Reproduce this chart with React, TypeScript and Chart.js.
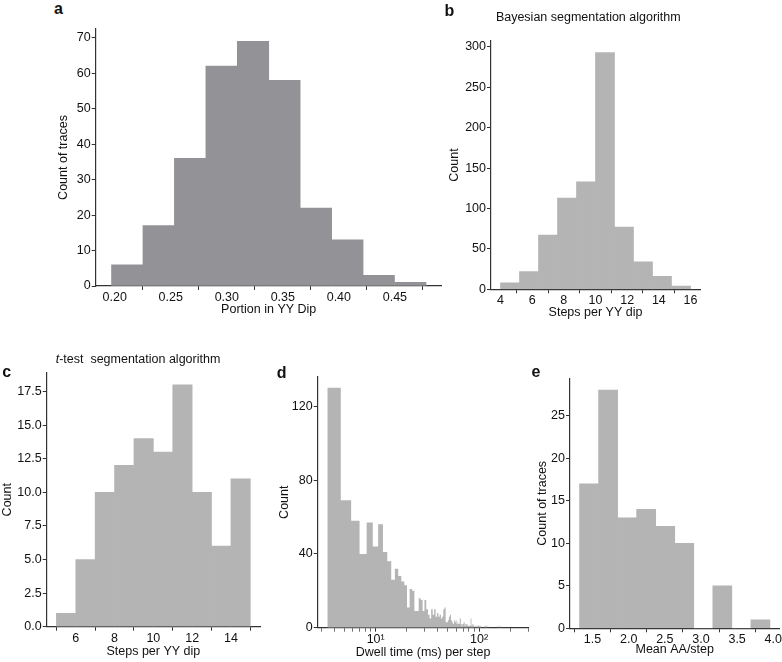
import React, { useEffect, useRef } from "react";
import { Chart, registerables } from "chart.js";

Chart.register(...registerables);

const FONT = "'Liberation Sans', Arial, Helvetica, sans-serif";
const FS = 12.5;
Chart.defaults.font.family = FONT;
Chart.defaults.font.size = FS;
Chart.defaults.color = "#111111";

// ---------- Panel a: Portion in YY Dip ----------
const portionEdges = [0.1971, 0.2252, 0.2532, 0.2813, 0.3094, 0.3374, 0.3655, 0.3936, 0.4216, 0.4497, 0.4778];
const portionCounts = [6, 17, 36, 62, 69, 58, 22, 13, 3, 1];
const portionXTicks = [0.2, 0.25, 0.3, 0.35, 0.4, 0.45];
const portionYTicks = [0, 10, 20, 30, 40, 50, 60, 70];

// ---------- Panel b: Bayesian segmentation ----------
const bayesEdges = [4, 5.2, 6.4, 7.6, 8.8, 10, 11.2, 12.4, 13.6, 14.8, 16];
const bayesCounts = [8, 22, 67, 113, 133, 293, 77, 34, 16, 4];
const bayesXTicks = [4, 6, 8, 10, 12, 14, 16];
const bayesYTicks = [0, 50, 100, 150, 200, 250, 300];

// ---------- Panel c: t-test segmentation ----------
const ttestEdges = [5, 6, 7, 8, 9, 10, 11, 12, 13, 14, 15];
const ttestCounts = [1, 5, 10, 12, 14, 13, 18, 10, 6, 11];
const ttestXTicks = [6, 8, 10, 12, 14];
const ttestYTicks = [0, 2.5, 5, 7.5, 10, 12.5, 15, 17.5];

// ---------- Panel d: Dwell time per step (linear bins on log axis) ----------
const dwellBinStart = 3.4;
const dwellBinWidth = 1.193;
const dwellCounts = [
  130, 69, 58, 40, 57, 44, 56, 41, 36, 26,
  32, 28, 25, 23, 11, 21, 20, 9, 9, 16,
  15, 9, 15, 10, 7, 5, 10, 7, 10, 6,
  8, 6, 7, 5, 6, 10, 11, 3, 3, 4,
  6, 7, 4, 3, 2, 4, 3, 4, 2, 3,
  2, 3, 5, 2, 1, 2, 3, 3, 1, 2,
  1, 2, 1, 2, 1, 1, 2, 5, 1, 1,
  2, 1, 1, 0, 1, 1, 0, 1, 0, 1,
  1, 0, 1, 0, 1, 0, 0, 1, 0, 1,
  0, 0, 1, 0, 0, 1, 0, 0, 0, 1,
  0, 0, 0, 1, 0, 0, 0, 1, 0, 0,
  0, 0, 1, 0, 0, 0, 0, 0, 1, 0,
  0, 0, 0, 0, 0, 1, 0, 0, 0, 0,
  0, 0, 0, 1, 0, 0, 0, 0, 0, 0,
  0, 1, 0, 0, 0, 0, 0, 0, 0, 0,
  0, 0, 1, 0, 0, 0, 0, 0, 0, 0,
  0, 0, 0, 0, 0, 0, 0, 0, 0, 0,
  0, 0, 0, 0, 0, 0, 0, 0, 0, 0,
  0, 0, 0, 0, 0, 0, 0, 0, 0, 0,
  0, 0, 0, 0, 0, 0, 0, 0, 0, 0,
];
const dwellEdges = Array.from({ length: dwellCounts.length + 1 }, (_, k) => dwellBinStart + k * dwellBinWidth);
const dwellXTicks = [3, 4, 5, 6, 7, 8, 9, 10, 20, 30, 40, 50, 60, 70, 80, 90, 100, 200, 300];
const dwellXMajor = [10, 100];
const dwellXLabels = ["10\u00B9", "10\u00B2"];
const dwellYTicks = [0, 40, 80, 120];

// ---------- Panel e: Mean AA/step ----------
const aaEdges = [1.32, 1.5834, 1.8468, 2.1102, 2.3736, 2.637, 2.9004, 3.1638, 3.4272, 3.6906, 3.954];
const aaCounts = [17, 28, 13, 14, 12, 10, 0, 5, 0, 1];
const aaXTicks = [1.5, 2, 2.5, 3, 3.5, 4];
const aaYTicks = [0, 5, 10, 15, 20, 25];

const AXIS = "#333333";
const TEXT = "#111111";

type PanelProps = {
  kind: "bar" | "logstep";
  edges: number[];
  counts: number[];
  color: string;
  box: { left: number; top: number; width: number; height: number };
  pad: { top: number; right: number };
  yAxisWidth: number;
  xAxisHeight: number;
  xMin: number;
  xMax: number;
  yMax: number;
  xTicks: number[];
  yTicks: number[];
  xLabel: (v: number) => string;
  yLabel: (v: number) => string;
  xTitle: string;
  yTitle: string;
  xTitlePad: number;
  yTitlePad: number;
  minorX?: number[];
};

function Panel(p: PanelProps) {
  const ref = useRef<HTMLCanvasElement>(null);
  useEffect(() => {
    const canvas = ref.current;
    if (!canvas) return;
    const data: { x: number; y: number }[] = [];
    if (p.kind === "bar") {
      p.counts.forEach((c, i) => data.push({ x: (p.edges[i] + p.edges[i + 1]) / 2, y: c }));
    } else {
      p.counts.forEach((c, i) => {
        data.push({ x: p.edges[i], y: c });
        data.push({ x: p.edges[i + 1], y: c });
      });
    }
    const dataset: any =
      p.kind === "bar"
        ? { data, backgroundColor: p.color, borderWidth: 0, barPercentage: 1, categoryPercentage: 1 }
        : {
            data,
            backgroundColor: p.color,
            borderColor: "rgba(0,0,0,0)",
            borderWidth: 0,
            pointRadius: 0,
            fill: "origin",
            tension: 0,
          };
    const gridOpts = (minor?: number[]) => ({
      display: true,
      drawOnChartArea: false,
      drawTicks: true,
      tickLength: 4,
      color: AXIS,
      tickColor: AXIS,
      tickWidth: (ctx: any) => (minor && ctx.tick && minor.indexOf(ctx.tick.value) < 0 ? 0.7 : 1),
    });
    const chart = new Chart(canvas, {
      type: p.kind === "bar" ? "bar" : "line",
      data: { datasets: [dataset] },
      options: {
        responsive: false,
        animation: false,
        events: [],
        layout: { padding: { left: 0, top: p.pad.top, right: p.pad.right, bottom: 0 } },
        plugins: { legend: { display: false }, tooltip: { enabled: false }, title: { display: false } },
        scales: {
          x: {
            type: p.kind === "bar" ? "linear" : "logarithmic",
            min: p.xMin,
            max: p.xMax,
            offset: false,
            grid: gridOpts(p.minorX),
            border: { display: true, color: AXIS, width: 1.2 },
            ticks: {
              autoSkip: false,
              maxRotation: 0,
              minRotation: 0,
              padding: 0,
              color: TEXT,
              font: { size: FS },
              callback: (v: any) => p.xLabel(Number(v)),
            },
            title: {
              display: true,
              text: p.xTitle,
              color: TEXT,
              font: { size: FS },
              padding: { top: 0, bottom: p.xTitlePad },
            },
            afterBuildTicks: (s: any) => {
              s.ticks = p.xTicks.map((v) => ({ value: v }));
            },
            afterFit: (s: any) => {
              s.height = p.xAxisHeight;
            },
          } as any,
          y: {
            type: "linear",
            min: 0,
            max: p.yMax,
            grid: gridOpts(),
            border: { display: true, color: AXIS, width: 1.2 },
            ticks: {
              autoSkip: false,
              padding: 1,
              color: TEXT,
              font: { size: FS },
              callback: (v: any) => p.yLabel(Number(v)),
            },
            title: {
              display: true,
              text: p.yTitle,
              color: TEXT,
              font: { size: FS },
              padding: { top: p.yTitlePad, bottom: 0 },
            },
            afterBuildTicks: (s: any) => {
              s.ticks = p.yTicks.map((v) => ({ value: v }));
            },
            afterFit: (s: any) => {
              s.width = p.yAxisWidth;
            },
          } as any,
        },
      },
    });
    return () => chart.destroy();
  }, []);
  return (
    <canvas
      ref={ref}
      width={p.box.width}
      height={p.box.height}
      style={{ position: "absolute", left: p.box.left, top: p.box.top, width: p.box.width, height: p.box.height }}
    />
  );
}

function Label(props: { x: number; y: number; size: number; bold?: boolean; children: React.ReactNode }) {
  return (
    <div
      style={{
        position: "absolute",
        left: props.x,
        top: props.y,
        transform: "translate(-50%, -50%)",
        fontFamily: FONT,
        fontSize: props.size,
        fontWeight: props.bold ? "bold" : "normal",
        lineHeight: 1,
        whiteSpace: "pre",
        color: TEXT,
      }}
    >
      {props.children}
    </div>
  );
}

export default function App() {
  useEffect(() => {
    document.body.style.margin = "0";
    document.body.style.overflow = "hidden";
  }, []);
  const str = (v: number) => String(v);
  return (
    <div style={{ position: "relative", width: 782, height: 662, overflow: "hidden", background: "#fff" }}>
      <Panel
        kind="bar"
        edges={portionEdges}
        counts={portionCounts}
        color="#939397"
        box={{ left: 40, top: 20, width: 420, height: 302 }}
        pad={{ top: 9, right: 18.3 }}
        yAxisWidth={55.7}
        xAxisHeight={36}
        xMin={0.183}
        xMax={0.4918}
        yMax={72.45}
        xTicks={portionXTicks}
        yTicks={portionYTicks}
        xLabel={(v) => v.toFixed(2)}
        yLabel={str}
        xTitle="Portion in YY Dip"
        yTitle="Count of traces"
        xTitlePad={4.5}
        yTitlePad={16.5}
      />
      <Panel
        kind="bar"
        edges={bayesEdges}
        counts={bayesCounts}
        color="#b4b4b4"
        box={{ left: 440, top: 25, width: 282, height: 300 }}
        pad={{ top: 15.7, right: 22 }}
        yAxisWidth={51}
        xAxisHeight={35.7}
        xMin={3.4}
        xMax={16.6}
        yMax={307.65}
        xTicks={bayesXTicks}
        yTicks={bayesYTicks}
        xLabel={str}
        yLabel={str}
        xTitle="Steps per YY dip"
        yTitle="Count"
        xTitlePad={4.8}
        yTitlePad={7.5}
      />
      <Panel
        kind="bar"
        edges={ttestEdges}
        counts={ttestCounts}
        color="#b4b4b4"
        box={{ left: 0, top: 360, width: 275, height: 302 }}
        pad={{ top: 12.7, right: 15 }}
        yAxisWidth={46.7}
        xAxisHeight={35.3}
        xMin={4.5}
        xMax={15.5}
        yMax={18.9}
        xTicks={ttestXTicks}
        yTicks={ttestYTicks}
        xLabel={str}
        yLabel={(v) => v.toFixed(1)}
        xTitle="Steps per YY dip"
        yTitle="Count"
        xTitlePad={2.8}
        yTitlePad={0}
      />
      <Panel
        kind="logstep"
        edges={dwellEdges}
        counts={dwellCounts}
        color="#b4b4b4"
        box={{ left: 277, top: 362, width: 268, height: 300 }}
        pad={{ top: 14.7, right: 16.7 }}
        yAxisWidth={40.7}
        xAxisHeight={34.3}
        xMin={2.745}
        xMax={300}
        yMax={136}
        xTicks={dwellXTicks}
        yTicks={dwellYTicks}
        xLabel={(v) => {
          const i = dwellXMajor.indexOf(v);
          return i >= 0 ? dwellXLabels[i] : "";
        }}
        yLabel={str}
        xTitle="Dwell time (ms) per step"
        yTitle="Count"
        xTitlePad={1.8}
        yTitlePad={0}
        minorX={dwellXMajor}
      />
      <Panel
        kind="bar"
        edges={aaEdges}
        counts={aaCounts}
        color="#b4b4b4"
        box={{ left: 530, top: 362, width: 252, height: 300 }}
        pad={{ top: 16.3, right: 2 }}
        yAxisWidth={40}
        xAxisHeight={33.7}
        xMin={1.188}
        xMax={4.086}
        yMax={29.4}
        xTicks={aaXTicks}
        yTicks={aaYTicks}
        xLabel={(v) => v.toFixed(1)}
        yLabel={str}
        xTitle="Mean AA/step"
        yTitle="Count of traces"
        xTitlePad={4.5}
        yTitlePad={4.8}
      />
      <Label x={58.5} y={9} size={16} bold>a</Label>
      <Label x={449.3} y={10.7} size={16} bold>b</Label>
      <Label x={6.7} y={372} size={16} bold>c</Label>
      <Label x={281.7} y={373.3} size={16} bold>d</Label>
      <Label x={536} y={372} size={16} bold>e</Label>
      <Label x={588.3} y={17.3} size={FS}>Bayesian segmentation algorithm</Label>
      <Label x={138} y={359} size={FS}>
        <i>t</i>
        {"-test  segmentation algorithm"}
      </Label>
    </div>
  );
}
